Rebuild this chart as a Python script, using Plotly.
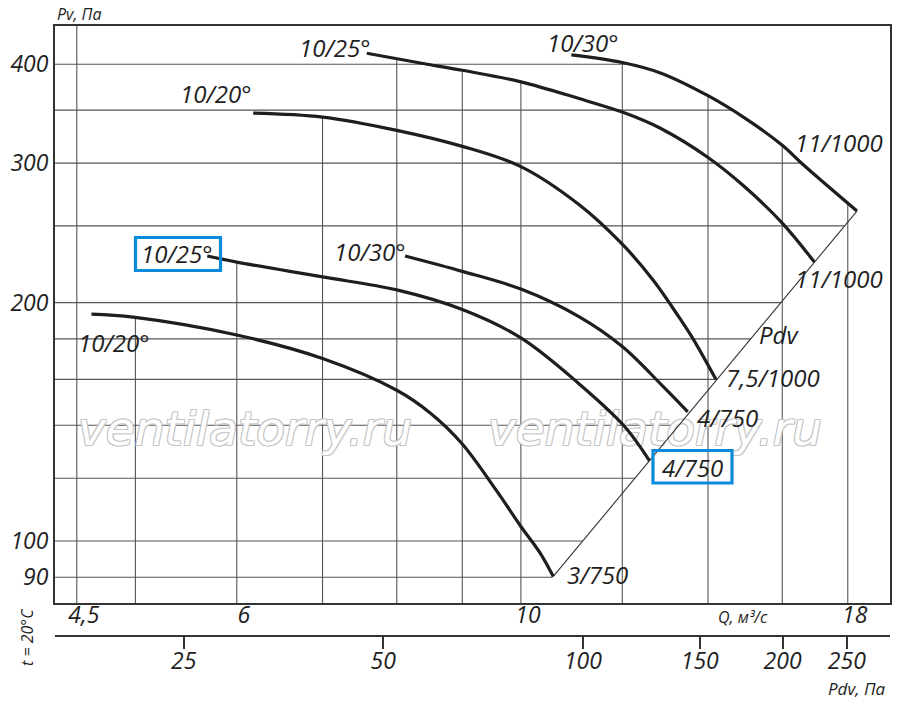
import numpy as np
import plotly.graph_objects as go

# fan curves: Q in m3/s, Pv in Pa
q_a = [10.95, 12.0, 12.85, 14.0, 15.0, 16.0, 16.6, 18.3]
pv_a = [411, 402, 390, 365, 341, 316, 299, 261]

q_b = [7.58, 8.45, 9.0, 10.0, 11.1, 12.0, 12.85, 14.0, 14.9, 16.0, 16.95]
pv_b = [413, 400, 393, 380, 362, 348, 332, 305, 281.5, 252, 225]

q_c = [6.18, 7.0, 8.0, 9.0, 10.0, 11.1, 12.0, 12.7, 13.3, 13.6, 14.2]
pv_c = [347, 343, 330, 315, 297, 266, 237, 213, 191.3, 181, 160]

q_d = [8.12, 9.0, 10.0, 11.1, 12.0, 12.9, 13.5]
pv_d = [229, 219, 208, 192, 176, 157, 145.6]

q_e = [5.69, 6.0, 7.0, 8.0, 9.0, 10.0, 11.1, 12.05, 12.6]
pv_e = [229, 225, 215.5, 207.5, 196, 180.5, 158, 139.5, 126.3]

q_f = [4.62, 4.98, 6.0, 7.0, 8.0, 8.5, 9.0, 9.58, 10.0, 10.35, 10.6]
pv_f = [193.4, 191.7, 182, 170, 155, 145, 132.6, 115.5, 104.3, 96.6, 90.2]

curves = [(q_a, pv_a), (q_b, pv_b), (q_c, pv_c), (q_d, pv_d), (q_e, pv_e), (q_f, pv_f)]

# grid and ticks
q_grid = [4.5, 5, 6, 7, 8, 9, 10, 12, 14, 16, 18]
pv_grid = [90, 100, 120, 140, 160, 180, 200, 250, 300, 350, 400]
q_ticks = [4.5, 6, 10, 18]
q_ticktext = ["4,5", "6", "10", "18"]
pv_ticks = [90, 100, 200, 300, 400]
pdv_ticks = [25, 50, 100, 150, 200, 250]

X_RANGE = [np.log10(4.327), np.log10(19.42)]
Y_RANGE = [np.log10(83.5), np.log10(447)]
PDV_RANGE = [1.204, 2.463]

INK = "#1e1e1e"
GRID = "#555555"
BLUE = "#0b8ad9"
FONT = "Open Sans"

W, H = 900, 703
L, T, R, B = 55, 26, 10, 67
PW, PH = W - L - R, H - T - B
PLOT_BOTTOM = 603  # pixel row of the lower frame line


def px_x(px):
    return (px - L) / PW


def px_y(py):
    return (H - B - py) / PH


def px_to_q(px):
    frac = (px - L) / PW
    return 10 ** (X_RANGE[0] + frac * (X_RANGE[1] - X_RANGE[0]))


def px_to_pv(py):
    frac = (PLOT_BOTTOM - py) / (PLOT_BOTTOM - T)
    return 10 ** (Y_RANGE[0] + frac * (Y_RANGE[1] - Y_RANGE[0]))


def log_interp(x, xs, ys):
    return 10 ** np.interp(np.log10(x), np.log10(xs), np.log10(ys))


# the system line through the ends of the curves
ends = sorted((c[0][-1], c[1][-1]) for c in curves)
diag_q = [ends[0][0], ends[-1][0]]
diag_pv = [ends[0][1], ends[-1][1]]
diag_slope = np.log10(diag_pv[1] / diag_pv[0]) / np.log10(diag_q[1] / diag_q[0])

# vertical grid lines stop at the upper envelope of the curves
grid_x, grid_y = [], []
for q in q_grid:
    tops = [log_interp(q, cq, cp) for cq, cp in curves if cq[0] <= q <= cq[-1]]
    top = max(tops) if tops else 10 ** Y_RANGE[1]
    grid_x += [q, q, None]
    grid_y += [10 ** Y_RANGE[0], top, None]

# horizontal grid lines stop at the outer curve or the system line
outer_q, outer_pv = curves[0]
for pv in pv_grid:
    q_end = diag_q[0] * (pv / diag_pv[0]) ** (1 / diag_slope)
    if min(outer_pv) <= pv <= max(outer_pv):
        q_end = min(q_end, log_interp(pv, outer_pv[::-1], outer_q[::-1]))
    grid_x += [10 ** X_RANGE[0], q_end, None]
    grid_y += [pv, pv, None]

fig = go.Figure()

fig.add_trace(go.Scatter(
    x=grid_x, y=grid_y, mode="lines",
    line=dict(color=GRID, width=1.1), hoverinfo="skip"
))

# watermark
fig.add_trace(go.Scatter(
    x=[px_to_q(245), px_to_q(655)], y=[px_to_pv(433), px_to_pv(433)],
    mode="text", text=["ventilatorry.ru", "ventilatorry.ru"],
    textfont=dict(family="DejaVu Sans", size=47, color="white", style="italic",
                  shadow="-1px -1px 0 #c4c4c4, 1px -1px 0 #c4c4c4, "
                         "-1px 1px 0 #c4c4c4, 1px 1px 0 #c4c4c4"),
    hoverinfo="skip"
))

fig.add_trace(go.Scatter(
    x=diag_q, y=diag_pv, mode="lines",
    line=dict(color="#333333", width=1.1), hoverinfo="skip"
))

for cq, cp in curves:
    fig.add_trace(go.Scatter(
        x=cq, y=cp, mode="lines",
        line=dict(color=INK, width=3.2, shape="spline", smoothing=1.0),
        hoverinfo="skip"
    ))

# invisible trace to carry the Pdv axis
fig.add_trace(go.Scatter(
    x=pdv_ticks, y=[100] * len(pdv_ticks), xaxis="x2", mode="markers",
    marker=dict(opacity=0), hoverinfo="skip"
))

# curve labels (pixel positions)
labels = [
    ("10/30°", 583, 43), ("10/25°", 335, 47), ("10/20°", 216, 94),
    ("10/30°", 370, 252), ("10/25°", 177, 253), ("10/20°", 114, 342),
    ("11/1000", 839, 142), ("11/1000", 839, 278), ("7,5/1000", 773, 378),
    ("4/750", 727, 417), ("4/750", 692, 467), ("3/750", 597, 574),
    ("Pdv", 779, 335),
]
annotations = []
for text, x, y in labels:
    annotations.append(dict(
        text=text, x=px_x(x), y=px_y(y), xref="paper", yref="paper",
        showarrow=False, xanchor="center", yanchor="middle",
        font=dict(family=FONT, size=24, color=INK, style="italic")
    ))

axis_titles = [
    ("Pv, Па", 79, 14, 16, 0),
    ("Q, м³/с", 743, 617, 16, 0),
    ("Pdv, Па", 856, 688, 17, 0),
    ("t = 20°C", 27, 637, 16, -90),
]
for text, x, y, size, angle in axis_titles:
    annotations.append(dict(
        text=text, x=px_x(x), y=px_y(y), xref="paper", yref="paper",
        showarrow=False, xanchor="center", yanchor="middle", textangle=angle,
        font=dict(family=FONT, size=size, color=INK, style="italic")
    ))

shapes = []
for x0, y0, x1, y1 in [(135.5, 237.5, 220.5, 270.5), (653, 450.5, 732, 483)]:
    shapes.append(dict(
        type="rect", xref="paper", yref="paper",
        x0=px_x(x0), x1=px_x(x1), y0=px_y(y1), y1=px_y(y0),
        line=dict(color=BLUE, width=3.2), fillcolor="rgba(0,0,0,0)"
    ))

tick_font = dict(family=FONT, size=23, color=INK, style="italic")

fig.update_layout(
    width=W, height=H,
    margin=dict(l=L, r=R, t=T, b=B, autoexpand=False),
    paper_bgcolor="white", plot_bgcolor="white",
    showlegend=False,
    annotations=annotations,
    shapes=shapes,
    xaxis=dict(
        type="log", range=X_RANGE, domain=[0, 1], automargin=False,
        tickvals=q_ticks, ticktext=q_ticktext, tickfont=tick_font,
        ticks="", ticklabelshift=7, ticklabelstandoff=-10,
        showgrid=False, zeroline=False,
        showline=True, linecolor="#333333", linewidth=2, mirror=True
    ),
    yaxis=dict(
        type="log", range=Y_RANGE, domain=[(H - B - PLOT_BOTTOM) / PH, 1], automargin=False,
        tickvals=pv_ticks, ticktext=[str(v) for v in pv_ticks], tickfont=tick_font,
        ticks="",
        showgrid=False, zeroline=False,
        showline=True, linecolor="#333333", linewidth=2, mirror=True
    ),
    xaxis2=dict(
        type="log", range=PDV_RANGE, overlaying="x", anchor="free", position=0,
        side="bottom", automargin=False,
        tickvals=pdv_ticks, ticktext=[str(v) for v in pdv_ticks], tickfont=tick_font,
        ticks="outside", ticklen=12, tickwidth=1.5, tickcolor="#333333",
        ticklabelstandoff=-8,
        showgrid=False, zeroline=False,
        showline=True, linecolor="#333333", linewidth=2
    ),
)

# drop the browser's default page margin so the figure sits at the corner
fig.write_html(
    "out.html",
    config={"displayModeBar": False},
    post_script="document.body.style.margin = '0';",
)
